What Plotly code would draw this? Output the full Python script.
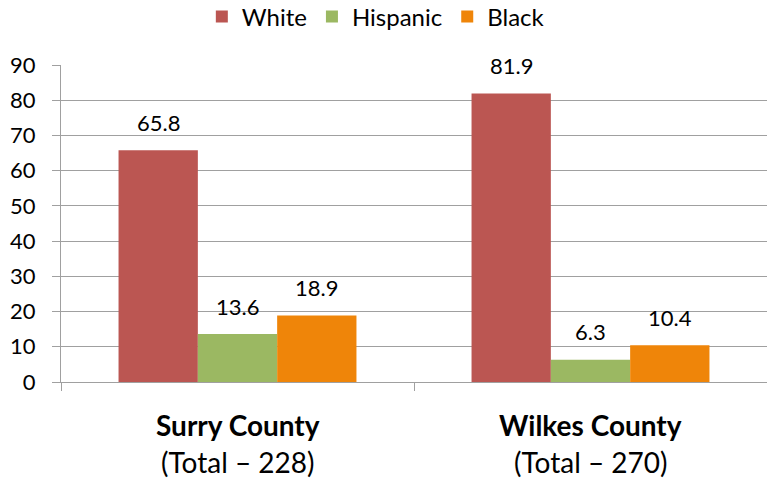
import plotly.graph_objects as go

counties = ["Surry County", "Wilkes County"]
totals = [228, 270]
series_names = ["White", "Hispanic", "Black"]
white = [65.8, 81.9]
hispanic = [13.6, 6.3]
black = [18.9, 10.4]
y_ticks = [0, 10, 20, 30, 40, 50, 60, 70, 80, 90]

values = {"White": white, "Hispanic": hispanic, "Black": black}
colors = {"White": "#BB5652", "Hispanic": "#9BB862", "Black": "#EF8509"}
FONT = "Lato"

fig = go.Figure()
for name in series_names:
    fig.add_trace(go.Bar(
        x=counties, y=values[name], name=name,
        marker=dict(color=colors[name], line=dict(width=0)),
    ))

# data labels (Excel-style, lifted above bars)
for i, name in enumerate(series_names):
    for c, v in zip(counties, values[name]):
        fig.add_annotation(
            x=c, y=v, xref="x", yref="y", text=f"{v}",
            showarrow=False, yanchor="middle",
            xshift=(i - 1) * 79, yshift=28,
            font=dict(family=FONT, size=22, color="#000"),
        )

# category labels
for c, t in zip(counties, totals):
    fig.add_annotation(x=c, y=0, xref="x", yref="paper", text=f"<b>{c}</b>",
                       showarrow=False, yanchor="middle", yshift=-43,
                       font=dict(family=FONT, size=28, color="#000"))
    fig.add_annotation(x=c, y=0, xref="x", yref="paper", text=f"(Total \u2013 {t})",
                       showarrow=False, yanchor="middle", yshift=-80,
                       font=dict(family=FONT, size=28, color="#000"))

# clipped title (only descenders visible in reference)
fig.add_annotation(x=1.0, y=1.195, xref="paper", yref="paper", xanchor="right",
                   yanchor="bottom", showarrow=False,
                   text="<b>Race of Sample Respondents in County (Percent)</b>",
                   font=dict(family=FONT, size=22, color="#000"))

fig.update_layout(
    width=767, height=483,
    margin=dict(l=61, r=0, t=65, b=101),
    paper_bgcolor="white", plot_bgcolor="white",
    barmode="group", bargap=0.326, bargroupgap=0,
    font=dict(family=FONT, size=22, color="#000"),
    legend=dict(orientation="h", xref="container", yref="container",
                x=0.49, y=0.965, xanchor="center", yanchor="middle",
                font=dict(family=FONT, size=24), itemwidth=30,
                bgcolor="rgba(0,0,0,0)"),
    xaxis=dict(showticklabels=False, showline=True, linecolor="#A0A0A0",
               linewidth=1, ticks="outside", tickson="boundaries",
               ticklen=8, tickcolor="#A0A0A0", showgrid=False),
    yaxis=dict(range=[0, 90], tickvals=y_ticks, showline=True,
               linecolor="#A0A0A0", linewidth=1, ticks="outside", ticklen=8,
               tickcolor="#A0A0A0", gridcolor="#A0A0A0", gridwidth=1,
               zeroline=False, tickfont=dict(family=FONT, size=22, color="#000"),
               ticklabelstandoff=12),
)

fig.write_html("out.html", config={"displayModeBar": False},
               post_script="document.body.style.margin='0';document.body.style.overflow='hidden';")
